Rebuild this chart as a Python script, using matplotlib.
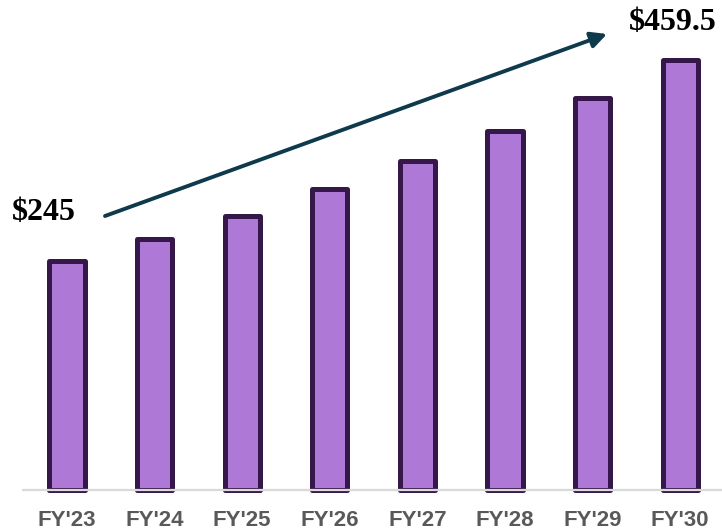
import matplotlib
matplotlib.use("Agg")
import matplotlib.pyplot as plt

categories = ["FY'23", "FY'24", "FY'25", "FY'26", "FY'27", "FY'28", "FY'29", "FY'30"]
values = [245, 268, 293, 321, 351, 383, 419, 459.5]
start_label = "$245"
end_label = "$459.5"

W, H = 722, 532
fig = plt.figure(figsize=(W / 100, H / 100), dpi=100)
ax = fig.add_axes([0, 0, 1, 1])

x = list(range(len(categories)))
bars = ax.bar(x, values, width=0.40, color="#ae78d6", edgecolor="#36174a",
              linewidth=3.6, zorder=2)
for b in bars:
    b.set_joinstyle("round")

# axis scaling: bar centers at 67px with 87.6px spacing; zero at 490px from top
px_per_unit = 87.6
ax.set_xlim(-67 / px_per_unit, (W - 67) / px_per_unit)
v_per_px = 1.068
ax.set_ylim(-42 * v_per_px, 490 * v_per_px)
ax.axis("off")

# baseline
ax.plot([(22 - 67) / px_per_unit, (W - 67) / px_per_unit], [0, 0],
        color="#d9d9d9", linewidth=1.6, zorder=3, solid_capstyle="butt")

# category labels
for xi, c in zip(x, categories):
    ax.text(xi, -30.5 * v_per_px, c, ha="center", va="center", fontsize=16,
            fontweight="bold", color="#595959", family="Liberation Sans")

# growth arrow
ax.annotate("", xy=(607, H - 34), xytext=(105, H - 216),
            xycoords="figure pixels", textcoords="figure pixels",
            arrowprops=dict(arrowstyle="-|>,head_length=0.95,head_width=0.48",
                            color="#0e3a4c", lw=2.8, shrinkA=0, shrinkB=0))

fig.text(43.5 / W, 1 - 213 / H, start_label, ha="center", va="center",
         fontsize=23, fontweight="bold", family="Liberation Serif", color="black")
fig.text(673 / W, 1 - 22 / H, end_label, ha="center", va="center",
         fontsize=23, fontweight="bold", family="Liberation Serif", color="black")

fig.savefig("out.png", dpi=100)
